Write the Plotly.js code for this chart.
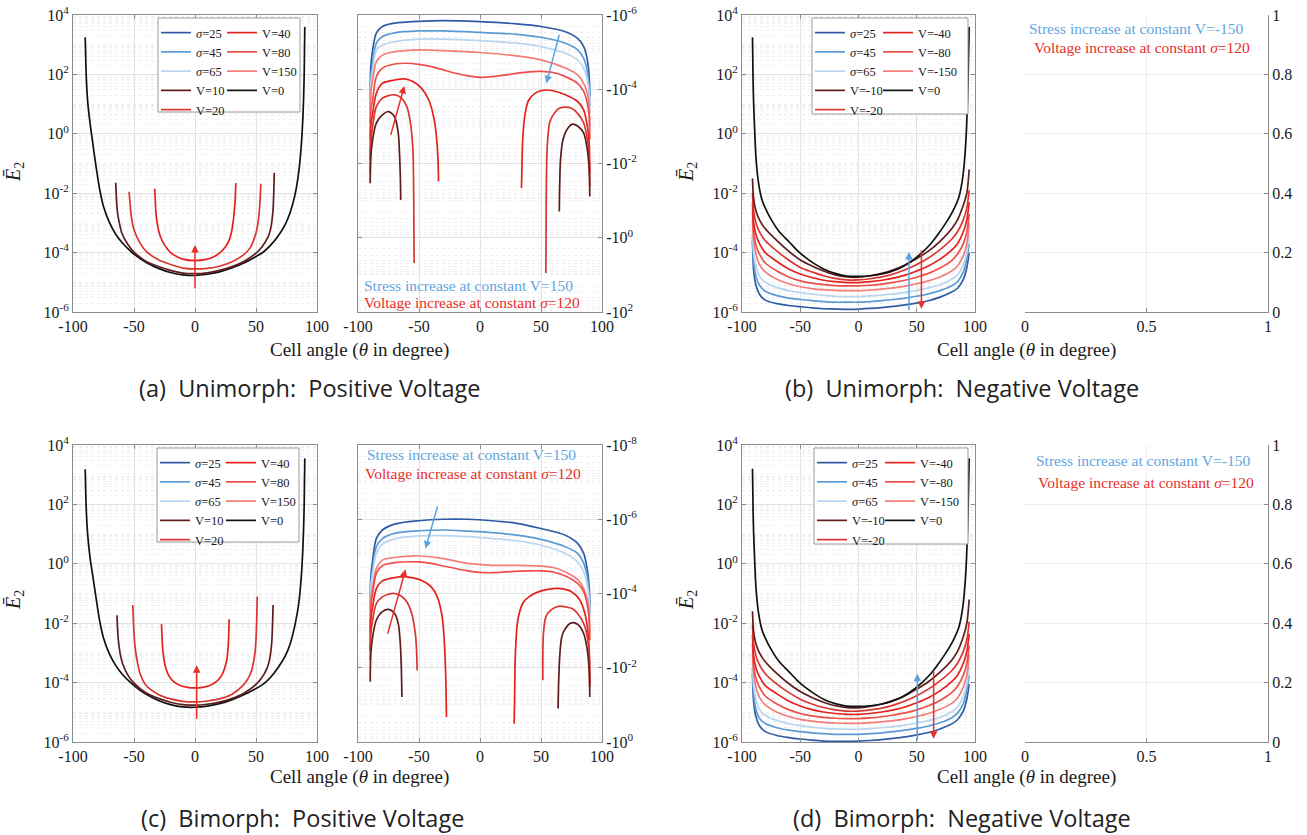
<!DOCTYPE html>
<html><head><meta charset="utf-8">
<script src="https://cdn.plot.ly/plotly-3.0.1.min.js"></script>
<style>html,body{margin:0;padding:0;background:#fff}#chart{width:1307px;height:835px}</style>
</head><body><div id="chart"></div>
<script>
// ===== DATA (values are log10 of |E2|) =====
// Panel (a) Unimorph, positive voltage - left axis (E2 > 0)
const a_x_V0 = [-90,-89.5,-89,-88,-86,-84,-82,-80,-78,-75,-70,-65,-60,-52,-45,-40,-30,-20,-10,0,10,20,30,40,50,56,62,68,74,78,82,85,87,88.5,89.5,90];
const a_V0 = [3.25,2.4,1.8,1.1,0.35,-0.25,-0.85,-1.4,-1.9,-2.45,-3.0,-3.38,-3.65,-3.98,-4.2,-4.33,-4.53,-4.67,-4.75,-4.77,-4.73,-4.65,-4.52,-4.35,-4.13,-3.98,-3.75,-3.45,-3.05,-2.65,-2.05,-1.3,-0.45,0.6,2.0,3.6];
const a_x_V10 = [-65,-64.5,-64,-63,-62,-60,-55,-50,-40,-30,-20,-10,0,10,20,30,40,50,55,60,62,63,64,64.5,65];
const a_V10 = [-1.65,-2.1,-2.45,-2.8,-3.0,-3.34,-3.73,-3.98,-4.3,-4.47,-4.6,-4.69,-4.71,-4.68,-4.6,-4.48,-4.3,-4.02,-3.8,-3.46,-3.2,-2.95,-2.55,-2.05,-1.31];
const a_x_V20 = [-54,-53.5,-53,-52,-50,-45,-40,-30,-20,-10,0,10,20,30,40,45,50,52,53,53.5,54];
const a_V20 = [-1.95,-2.2,-2.45,-2.85,-3.23,-3.68,-3.96,-4.24,-4.4,-4.52,-4.55,-4.53,-4.46,-4.32,-4.07,-3.85,-3.34,-2.9,-2.45,-2.1,-1.68];
const a_x_V40 = [-33,-32.5,-32,-31,-30,-28,-25,-20,-15,-10,0,10,15,20,25,28,30,31,32,32.8,33.5];
const a_V40 = [-1.85,-2.3,-2.67,-3.0,-3.23,-3.5,-3.74,-4.0,-4.13,-4.22,-4.27,-4.22,-4.15,-4.02,-3.8,-3.58,-3.3,-3.05,-2.7,-2.3,-1.66];
// Panel (a) - right axis (E2 < 0, log10 of magnitude)
const a_x_blue = [-90,-89.5,-88,-85,-80,-70,-50,-30,0,30,50,70,80,85,88,89.5,90];
const a_S25 = [-3.71,-4.61,-5.06,-5.51,-5.69,-5.78,-5.83,-5.85,-5.82,-5.76,-5.69,-5.55,-5.37,-5.15,-4.79,-4.34,-3.80];
const a_S45 = [-3.44,-4.34,-4.70,-5.24,-5.42,-5.52,-5.57,-5.57,-5.53,-5.48,-5.40,-5.24,-5.06,-4.83,-4.48,-4.07,-3.53];
const a_S65 = [-3.35,-4.16,-4.52,-5.06,-5.19,-5.28,-5.35,-5.35,-5.31,-5.24,-5.15,-4.97,-4.79,-4.57,-4.25,-3.89,-3.35];
const a_V150 = [-3.09,-3.89,-4.25,-4.74,-4.92,-5.01,-5.06,-5.04,-4.99,-4.90,-4.79,-4.57,-4.39,-4.16,-3.89,-3.53,-3.0];
const a_x_V80 = [-90,-89.5,-88,-85,-80,-70,-60,-50,-40,-30,-20,-10,0,10,20,30,40,50,60,70,80,85,88,89.5,90];
const a_V80 = [-2.64,-3.44,-3.71,-4.34,-4.57,-4.68,-4.70,-4.67,-4.61,-4.52,-4.43,-4.36,-4.32,-4.34,-4.38,-4.43,-4.47,-4.48,-4.45,-4.34,-4.16,-3.94,-3.62,-3.26,-2.64];
const a_x_V40L = [-90,-89.5,-88,-85,-80,-70,-62,-55,-48,-42,-38,-36,-34.5,-34];
const a_V40L = [-2.10,-3.0,-3.35,-3.89,-4.16,-4.25,-4.28,-4.21,-4.03,-3.71,-3.26,-2.82,-2.19,-1.52];
const a_x_V40R = [34,34.5,35,37,40,45,50,55,60,70,80,85,88,89.5,90];
const a_V40R = [-1.34,-2.10,-2.64,-3.35,-3.71,-3.89,-3.96,-3.98,-3.96,-3.85,-3.67,-3.44,-3.0,-2.55,-1.74];
const a_x_V20L = [-90,-89.5,-88,-85,-80,-75,-70,-65,-60,-57,-55,-54.3,-54];
const a_V20L = [-1.74,-2.55,-3.0,-3.53,-3.76,-3.83,-3.85,-3.78,-3.53,-3.09,-2.37,-1.02,0.68];
const a_x_V20R = [54,54.3,55,57,60,65,70,75,80,85,88,89.5,90];
const a_V20R = [0.95,-1.02,-2.37,-3.09,-3.31,-3.49,-3.52,-3.49,-3.35,-3.09,-2.64,-2.19,-1.38];
const a_x_V10L = [-90,-89.5,-88,-85,-80,-75,-70,-67,-66,-65.3,-65];
const a_V10L = [-1.47,-2.19,-2.64,-3.09,-3.31,-3.40,-3.26,-2.82,-2.28,-1.65,-1.02];
const a_x_V10R = [65,65.3,66,68,72,76,80,85,88,89.5,90];
const a_V10R = [-0.71,-1.38,-2.10,-2.64,-2.95,-3.06,-3.01,-2.82,-2.37,-1.83,-1.11];

// Panel (b) Unimorph, negative voltage
const b_x_V0 = [-91,-90.5,-90,-89,-88,-86,-83,-80,-74,-68,-60,-52,-45,-40,-30,-20,-10,0,10,20,34,45,54,62,68,75,81,86,89,91,92.5,94,95];
const b_V0 = [3.25,1.8,1.0,0.0,-0.8,-1.6,-2.2,-2.5,-2.95,-3.3,-3.62,-3.95,-4.18,-4.32,-4.55,-4.7,-4.79,-4.8,-4.78,-4.72,-4.55,-4.3,-4.02,-3.7,-3.4,-3.0,-2.6,-2.15,-1.6,-0.9,0.0,1.7,3.6];
const bd_x = [-91,-90,-88,-85,-80,-70,-60,-50,-40,-30,-20,-10,0,10,20,30,40,50,60,70,80,85,90,93,95];
const b_Vm10 = [-1.5,-2.2,-2.6,-2.9,-3.2,-3.6,-3.95,-4.25,-4.45,-4.62,-4.75,-4.82,-4.83,-4.78,-4.7,-4.58,-4.42,-4.2,-3.95,-3.62,-3.2,-2.9,-2.4,-2.0,-1.2];
const b_Vm20 = [-2.0,-2.6,-3.0,-3.3,-3.6,-3.95,-4.25,-4.5,-4.65,-4.78,-4.87,-4.92,-4.92,-4.88,-4.82,-4.72,-4.58,-4.4,-4.18,-3.9,-3.55,-3.3,-2.9,-2.5,-1.9];
const b_Vm40 = [-2.3,-3.0,-3.4,-3.7,-4.0,-4.3,-4.55,-4.72,-4.84,-4.93,-4.98,-5.01,-5.01,-4.98,-4.93,-4.86,-4.76,-4.62,-4.45,-4.22,-3.92,-3.7,-3.3,-2.9,-2.3];
const b_Vm80 = [-2.6,-3.3,-3.75,-4.05,-4.35,-4.62,-4.82,-4.95,-5.03,-5.08,-5.11,-5.12,-5.12,-5.1,-5.06,-5.0,-4.93,-4.83,-4.7,-4.52,-4.27,-4.05,-3.7,-3.3,-2.7];
const b_Vm150 = [-2.9,-3.6,-4.05,-4.4,-4.65,-4.9,-5.05,-5.15,-5.21,-5.25,-5.27,-5.28,-5.28,-5.26,-5.23,-5.19,-5.13,-5.05,-4.95,-4.82,-4.62,-4.45,-4.1,-3.7,-3.0];
const b_S65 = [-3.2,-4.0,-4.45,-4.8,-5.0,-5.18,-5.28,-5.35,-5.4,-5.44,-5.47,-5.48,-5.48,-5.46,-5.43,-5.39,-5.34,-5.27,-5.19,-5.08,-4.9,-4.75,-4.4,-4.0,-3.4];
const b_S45 = [-3.4,-4.3,-4.8,-5.1,-5.3,-5.45,-5.53,-5.58,-5.62,-5.65,-5.67,-5.67,-5.67,-5.65,-5.62,-5.58,-5.53,-5.47,-5.39,-5.28,-5.12,-4.98,-4.65,-4.2,-3.7];
const b_S25 = [-3.6,-4.6,-5.1,-5.4,-5.6,-5.72,-5.78,-5.82,-5.86,-5.89,-5.9,-5.91,-5.9,-5.88,-5.85,-5.81,-5.76,-5.7,-5.62,-5.5,-5.33,-5.2,-4.9,-4.5,-4.0];

// Panel (c) Bimorph, positive voltage - left axis
const c_V0 = [3.18,2.3,1.7,1.0,0.2,-0.35,-0.9,-1.45,-1.95,-2.5,-3.05,-3.42,-3.7,-4.03,-4.26,-4.39,-4.6,-4.74,-4.82,-4.83,-4.79,-4.71,-4.58,-4.41,-4.2,-4.05,-3.82,-3.5,-3.1,-2.7,-2.05,-1.35,-0.5,0.6,2.0,3.55];
const c_x_V10 = [-64,-63.5,-63,-62,-61,-59,-55,-50,-40,-30,-20,-10,0,10,20,30,40,50,55,59,61,62,63,63.5,64];
const c_V10 = [-1.73,-2.15,-2.5,-2.85,-3.1,-3.4,-3.75,-4.02,-4.35,-4.53,-4.66,-4.74,-4.76,-4.73,-4.66,-4.54,-4.36,-4.06,-3.82,-3.52,-3.25,-3.0,-2.6,-2.1,-1.39];
const c_x_V20 = [-51,-50.5,-50,-49,-47,-45,-40,-30,-20,-10,0,10,20,30,40,45,47,49,50,50.5,51];
const c_V20 = [-1.39,-1.9,-2.35,-2.85,-3.35,-3.7,-4.1,-4.4,-4.55,-4.63,-4.65,-4.62,-4.55,-4.4,-4.07,-3.75,-3.5,-3.05,-2.55,-2.0,-1.11];
const c_x_V40 = [-27.5,-27,-26.5,-25.5,-24,-22,-18,-12,-6,0,6,12,18,22,24,26,27,27.5,28];
const c_V40 = [-2.03,-2.5,-2.85,-3.2,-3.5,-3.72,-3.95,-4.1,-4.16,-4.18,-4.16,-4.1,-3.95,-3.75,-3.55,-3.25,-2.9,-2.55,-1.87];
// Panel (c) - right axis (E2 < 0)
const c_x_blue = [-90,-89.5,-88,-85,-80,-70,-50,-30,-10,10,30,50,70,80,85,88,89.5,90];
const c_S25 = [-3.73,-4.45,-4.90,-5.48,-5.71,-5.87,-5.96,-6.0,-6.0,-5.96,-5.89,-5.75,-5.57,-5.35,-5.08,-4.63,-4.18,-3.64];
const c_S45 = [-3.55,-4.27,-4.67,-5.26,-5.48,-5.62,-5.69,-5.71,-5.68,-5.64,-5.57,-5.46,-5.26,-5.08,-4.81,-4.45,-4.0,-3.46];
const c_S65 = [-3.46,-4.18,-4.54,-5.08,-5.33,-5.47,-5.55,-5.56,-5.53,-5.48,-5.42,-5.30,-5.08,-4.85,-4.58,-4.22,-3.82,-3.37];
const c_x_V150 = [-90,-89.5,-88,-85,-80,-70,-50,-30,-10,10,30,50,60,70,80,85,88,89.5,90];
const c_V150 = [-3.10,-3.82,-4.18,-4.67,-4.90,-4.97,-5.01,-4.94,-4.81,-4.76,-4.76,-4.74,-4.70,-4.58,-4.38,-4.13,-3.82,-3.46,-2.92];
const c_x_V80 = [-90,-89.5,-88,-85,-80,-70,-50,-40,-30,-10,0,10,20,40,50,60,70,80,85,88,89.5,90];
const c_V80 = [-2.92,-3.64,-4.0,-4.54,-4.75,-4.83,-4.85,-4.81,-4.74,-4.61,-4.57,-4.56,-4.58,-4.61,-4.61,-4.58,-4.47,-4.27,-4.05,-3.69,-3.28,-2.74];
const c_x_V40L = [-90,-89.5,-88,-85,-80,-70,-60,-50,-40,-35,-31,-29,-28,-27.5];
const c_V40L = [-2.47,-3.28,-3.64,-4.13,-4.34,-4.43,-4.45,-4.38,-4.18,-3.91,-3.37,-2.56,-1.66,-0.67];
const c_x_V40R = [28,28.5,29,31,35,40,50,60,66,75,82,86,88,89.5,90];
const c_V40R = [-0.49,-1.48,-2.38,-3.28,-3.73,-3.91,-4.07,-4.13,-4.13,-4.05,-3.82,-3.46,-3.10,-2.47,-1.57];
const c_x_V20L = [-90,-89.5,-88,-85,-80,-75,-70,-65,-60,-56,-53,-52,-51.5];
const c_V20L = [-2.20,-2.92,-3.28,-3.73,-3.91,-3.98,-4.0,-3.94,-3.78,-3.46,-2.92,-2.47,-1.93];
const c_x_V20R = [51.5,52,54,58,65,70,75,80,85,88,89.5,90];
const c_V20R = [-1.66,-2.92,-3.37,-3.55,-3.66,-3.64,-3.60,-3.46,-3.19,-2.83,-2.38,-1.48];
const c_x_V10L = [-90,-89.5,-88,-85,-80,-75,-70,-67,-65.5,-64.5,-64];
const c_V10L = [-1.62,-2.38,-2.83,-3.28,-3.51,-3.57,-3.46,-3.19,-2.74,-2.02,-1.21];
const c_x_V10R = [64,64.5,65.5,67,70,75,80,85,88,89.5,90];
const c_V10R = [-0.90,-1.66,-2.38,-2.83,-3.06,-3.21,-3.17,-2.92,-2.47,-1.93,-1.21];

// Panel (d) Bimorph, negative voltage
const d_V0 = [3.2,1.8,1.0,0.0,-0.8,-1.6,-2.2,-2.5,-2.95,-3.3,-3.62,-3.95,-4.18,-4.32,-4.56,-4.71,-4.79,-4.8,-4.78,-4.72,-4.55,-4.3,-4.02,-3.7,-3.4,-3.0,-2.6,-2.15,-1.6,-0.9,0.0,1.7,3.55];
const d_Vm10 = [-1.6,-2.3,-2.7,-3.0,-3.3,-3.7,-4.03,-4.3,-4.5,-4.66,-4.78,-4.84,-4.85,-4.8,-4.72,-4.6,-4.44,-4.22,-3.97,-3.65,-3.25,-2.95,-2.45,-2.0,-1.2];
const d_Vm20 = [-2.05,-2.7,-3.1,-3.4,-3.7,-4.05,-4.33,-4.56,-4.72,-4.84,-4.92,-4.96,-4.96,-4.92,-4.86,-4.76,-4.62,-4.44,-4.22,-3.94,-3.6,-3.35,-2.95,-2.55,-1.95];
const d_Vm40 = [-2.4,-3.1,-3.5,-3.8,-4.1,-4.38,-4.62,-4.79,-4.91,-4.99,-5.04,-5.07,-5.07,-5.04,-4.99,-4.92,-4.82,-4.68,-4.51,-4.28,-3.97,-3.75,-3.35,-2.95,-2.35];
const d_Vm80 = [-2.7,-3.4,-3.85,-4.15,-4.45,-4.72,-4.91,-5.04,-5.12,-5.17,-5.2,-5.21,-5.21,-5.19,-5.15,-5.09,-5.02,-4.92,-4.78,-4.6,-4.34,-4.12,-3.75,-3.35,-2.75];
const d_Vm150 = [-3.0,-3.7,-4.15,-4.5,-4.75,-5.0,-5.14,-5.24,-5.3,-5.34,-5.36,-5.37,-5.37,-5.35,-5.32,-5.28,-5.22,-5.14,-5.04,-4.9,-4.7,-4.52,-4.15,-3.75,-3.05];
const d_S65 = [-3.3,-4.1,-4.55,-4.9,-5.1,-5.28,-5.38,-5.45,-5.5,-5.54,-5.56,-5.57,-5.57,-5.55,-5.52,-5.48,-5.43,-5.36,-5.28,-5.17,-4.98,-4.82,-4.45,-4.05,-3.45];
const d_S45 = [-3.5,-4.4,-4.9,-5.2,-5.38,-5.52,-5.6,-5.65,-5.69,-5.72,-5.74,-5.74,-5.74,-5.72,-5.69,-5.65,-5.6,-5.54,-5.46,-5.35,-5.18,-5.03,-4.7,-4.25,-3.75];
const d_S25 = [-3.7,-4.65,-5.15,-5.45,-5.65,-5.78,-5.85,-5.9,-5.94,-5.97,-5.98,-5.98,-5.97,-5.95,-5.92,-5.88,-5.83,-5.76,-5.68,-5.56,-5.39,-5.25,-4.95,-4.55,-4.05];

// ===== STYLE =====
const W = 1307, H = 835;
const px = p => p / W, py = p => 1 - p / H;
const SERIF = 'Liberation Serif';
const SANS = 'Open Sans';
const BOX = '#8c8c8c', GRID = '#e3e3e3', MINOR = '#efefef', TXT = '#1a1a1a';
const C = {S25:'#2f5ba6', S45:'#5b9bd5', S65:'#b9d6f0', V10:'#5e1c1c', V20:'#d8362f', V40:'#e4211c', V80:'#ec4f49', V150:'#f27d79', V0:'#111111'};
const ARROW_B = '#5ba3e0', ARROW_R = '#e8302a', TXT_B = '#62a6de', TXT_R = '#e8302a';

function evenDecades(lo, hi){ const a=[]; for(let e=lo;e<=hi;e++) if(e%2===0) a.push(Math.pow(10,e)); return a; }
function minors(lo, hi){ const a=[]; for(let e=lo;e<hi;e++){ if(e%2!==0) a.push(Math.pow(10,e)); for(let m=2;m<=9;m++) a.push(m*Math.pow(10,e)); } return a; }
function logLabels(lo, hi, neg){ const a=[]; for(let e=lo;e<=hi;e++) if(e%2===0) a.push((neg?'-':'')+'10<sup>'+e+'</sup>'); return a; }

function line(x, lg, color, sp, name, legend, rank){
  const n = sp===1 ? '' : String(sp);
  return {type:'scatter', mode:'lines', x:x, y:lg.map(v=>Math.pow(10,v)), xaxis:'x'+n, yaxis:'y'+n,
    line:{color:color, width:1.7, shape:'spline', smoothing:0.8}, name:name||'', legend:legend||'legend',
    legendrank:rank||1000, showlegend:!!name, hoverinfo:'skip'};
}
const S = s => '<i>σ</i>='+s;
const traces = [];
// (a)
traces.push(line(a_x_V0, a_V0, C.V0, 1, 'V=0', 'legend2', 4));
traces.push(line(a_x_V10, a_V10, C.V10, 1, 'V=10', 'legend', 4));
traces.push(line(a_x_V20, a_V20, C.V20, 1, 'V=20', 'legend', 5));
traces.push(line(a_x_V40, a_V40, C.V40, 1, 'V=40', 'legend2', 1));
traces.push(line(a_x_blue, a_S25, C.S25, 2, S(25), 'legend', 1));
traces.push(line(a_x_blue, a_S45, C.S45, 2, S(45), 'legend', 2));
traces.push(line(a_x_blue, a_S65, C.S65, 2, S(65), 'legend', 3));
traces.push(line(a_x_blue, a_V150, C.V150, 2, 'V=150', 'legend2', 3));
traces.push(line(a_x_V80, a_V80, C.V80, 2, 'V=80', 'legend2', 2));
traces.push(line(a_x_V40L, a_V40L, C.V40, 2));
traces.push(line(a_x_V40R, a_V40R, C.V40, 2));
traces.push(line(a_x_V20L, a_V20L, C.V20, 2));
traces.push(line(a_x_V20R, a_V20R, C.V20, 2));
traces.push(line(a_x_V10L, a_V10L, C.V10, 2));
traces.push(line(a_x_V10R, a_V10R, C.V10, 2));
// (b)
traces.push(line(bd_x, b_S25, C.S25, 3, S(25), 'legend3', 1));
traces.push(line(bd_x, b_S45, C.S45, 3, S(45), 'legend3', 2));
traces.push(line(bd_x, b_S65, C.S65, 3, S(65), 'legend3', 3));
traces.push(line(bd_x, b_Vm150, C.V150, 3, 'V=-150', 'legend4', 3));
traces.push(line(bd_x, b_Vm80, C.V80, 3, 'V=-80', 'legend4', 2));
traces.push(line(bd_x, b_Vm40, C.V40, 3, 'V=-40', 'legend4', 1));
traces.push(line(bd_x, b_Vm20, C.V20, 3, 'V=-20', 'legend3', 5));
traces.push(line(bd_x, b_Vm10, C.V10, 3, 'V=-10', 'legend3', 4));
traces.push(line(b_x_V0, b_V0, C.V0, 3, 'V=0', 'legend4', 4));
traces.push({type:'scatter', mode:'lines', x:[], y:[], xaxis:'x4', yaxis:'y4', showlegend:false, hoverinfo:'skip'});
// (c)
traces.push(line(a_x_V0, c_V0, C.V0, 5, 'V=0', 'legend6', 4));
traces.push(line(c_x_V10, c_V10, C.V10, 5, 'V=10', 'legend5', 4));
traces.push(line(c_x_V20, c_V20, C.V20, 5, 'V=20', 'legend5', 5));
traces.push(line(c_x_V40, c_V40, C.V40, 5, 'V=40', 'legend6', 1));
traces.push(line(c_x_blue, c_S25, C.S25, 6, S(25), 'legend5', 1));
traces.push(line(c_x_blue, c_S45, C.S45, 6, S(45), 'legend5', 2));
traces.push(line(c_x_blue, c_S65, C.S65, 6, S(65), 'legend5', 3));
traces.push(line(c_x_V150, c_V150, C.V150, 6, 'V=150', 'legend6', 3));
traces.push(line(c_x_V80, c_V80, C.V80, 6, 'V=80', 'legend6', 2));
traces.push(line(c_x_V40L, c_V40L, C.V40, 6));
traces.push(line(c_x_V40R, c_V40R, C.V40, 6));
traces.push(line(c_x_V20L, c_V20L, C.V20, 6));
traces.push(line(c_x_V20R, c_V20R, C.V20, 6));
traces.push(line(c_x_V10L, c_V10L, C.V10, 6));
traces.push(line(c_x_V10R, c_V10R, C.V10, 6));
// (d)
traces.push(line(bd_x, d_S25, C.S25, 7, S(25), 'legend7', 1));
traces.push(line(bd_x, d_S45, C.S45, 7, S(45), 'legend7', 2));
traces.push(line(bd_x, d_S65, C.S65, 7, S(65), 'legend7', 3));
traces.push(line(bd_x, d_Vm150, C.V150, 7, 'V=-150', 'legend8', 3));
traces.push(line(bd_x, d_Vm80, C.V80, 7, 'V=-80', 'legend8', 2));
traces.push(line(bd_x, d_Vm40, C.V40, 7, 'V=-40', 'legend8', 1));
traces.push(line(bd_x, d_Vm20, C.V20, 7, 'V=-20', 'legend7', 5));
traces.push(line(bd_x, d_Vm10, C.V10, 7, 'V=-10', 'legend7', 4));
traces.push(line(b_x_V0, d_V0, C.V0, 7, 'V=0', 'legend8', 4));
traces.push({type:'scatter', mode:'lines', x:[], y:[], xaxis:'x8', yaxis:'y8', showlegend:false, hoverinfo:'skip'});

// ===== AXES =====
function ax(extra){
  return Object.assign({showline:true, linecolor:BOX, linewidth:1, mirror:'ticks', ticks:'inside', ticklen:4, tickcolor:BOX,
    showgrid:true, gridcolor:GRID, gridwidth:1, zeroline:false, fixedrange:true, automargin:false,
    tickfont:{family:SERIF, size:16, color:TXT}}, extra);
}
const XL = [73,317], XR = [358,602], XL2 = [742,975], XR2 = [1025,1268];
const YT = [15,312], YB = [445,742];
const dom = (r) => [px(r[0]), px(r[1])];
const domY = (r) => [py(r[1]), py(r[0])];
const angleTicks = {range:[-100,100], tickvals:[-100,-50,0,50,100], ticktext:['-100','-50','0','50','100']};
const minorLog = (lo,hi) => ({tickvals:minors(lo,hi), showgrid:true, gridcolor:MINOR, griddash:'dot', ticks:''});
function leftLogY(anchor, yd){ return ax({domain:domY(yd), anchor:anchor, type:'log', range:[-6,4], tickvals:evenDecades(-6,4), ticktext:logLabels(-6,4,false), minor:minorLog(-6,4)}); }
function rightLogY(anchor, yd, lo, hi){ return ax({domain:domY(yd), anchor:anchor, side:'right', type:'log', range:[hi,lo], tickvals:evenDecades(lo,hi), ticktext:logLabels(lo,hi,true), minor:minorLog(lo,hi)}); }
function emptyX(anchor, xd){ return ax({domain:dom(xd), anchor:anchor, range:[0,1], tickvals:[0,0.5,1], ticktext:['0','0.5','1'], mirror:false, gridcolor:'#ececec'}); }
function emptyY(anchor, yd){ return ax({domain:domY(yd), anchor:anchor, side:'right', range:[0,1], tickvals:[0,0.2,0.4,0.6,0.8,1], ticktext:['0','0.2','0.4','0.6','0.8','1'], mirror:false, gridcolor:'#ececec'}); }

const layout = {
  width:W, height:H, margin:{l:0,r:0,t:0,b:0}, paper_bgcolor:'#fff', plot_bgcolor:'#fff', showlegend:true,
  xaxis: ax(Object.assign({domain:dom(XL), anchor:'y'}, angleTicks)),   yaxis: leftLogY('x', YT),
  xaxis2: ax(Object.assign({domain:dom(XR), anchor:'y2'}, angleTicks)), yaxis2: rightLogY('x2', YT, -6, 2),
  xaxis3: ax(Object.assign({domain:dom(XL2), anchor:'y3'}, angleTicks)), yaxis3: leftLogY('x3', YT),
  xaxis4: emptyX('y4', XR2), yaxis4: emptyY('x4', YT),
  xaxis5: ax(Object.assign({domain:dom(XL), anchor:'y5'}, angleTicks)), yaxis5: leftLogY('x5', YB),
  xaxis6: ax(Object.assign({domain:dom(XR), anchor:'y6'}, angleTicks)), yaxis6: rightLogY('x6', YB, -8, 0),
  xaxis7: ax(Object.assign({domain:dom(XL2), anchor:'y7'}, angleTicks)), yaxis7: leftLogY('x7', YB),
  xaxis8: emptyX('y8', XR2), yaxis8: emptyY('x8', YB),
};
function leg(xp, yp){ return {x:px(xp), y:py(yp), xanchor:'left', yanchor:'top', bgcolor:'rgba(0,0,0,0)', borderwidth:0,
  font:{family:SERIF, size:12.5, color:TXT}, tracegroupgap:0, itemclick:false, itemdoubleclick:false}; }
layout.legend = leg(156, 18);  layout.legend2 = leg(222, 18);
layout.legend3 = leg(810, 18); layout.legend4 = leg(878, 18);
layout.legend5 = leg(155, 448); layout.legend6 = leg(221, 448);
layout.legend7 = leg(812, 448); layout.legend8 = leg(880, 448);

function box(x0,x1,y0,y1){ return {type:'rect', xref:'paper', yref:'paper', x0:px(x0), x1:px(x1), y0:py(y1), y1:py(y0), fillcolor:'#ffffff', line:{color:'#9a9a9a', width:1}, layer:'above'}; }
layout.shapes = [box(158,300,18,112), box(812,968,18,114), box(157,299,448,542), box(814,968,448,544)];

function arrow(sp,x0,y0,x1,y1,color){ const n = sp===1?'':String(sp);
  return {xref:'x'+n, yref:'y'+n, axref:'x'+n, ayref:'y'+n, x:x1, y:y1, ax:x0, ay:y0, text:'', showarrow:true,
    arrowhead:2, arrowsize:1, arrowwidth:1.5, arrowcolor:color}; }
function ptxt(xp, yp, text, opts){ return Object.assign({xref:'paper', yref:'paper', x:px(xp), y:py(yp), text:text, showarrow:false,
  xanchor:'center', yanchor:'middle', font:{family:SERIF, size:19, color:TXT}}, opts||{}); }
const NB = '\u00a0';
const ann = [];
// arrows
ann.push(arrow(1, 0, -5.25, 0, -3.74, ARROW_R));
ann.push(arrow(2, 65.3, -5.51, 54.4, -4.16, ARROW_B));
ann.push(arrow(2, -73.5, -2.73, -62, -4.09, ARROW_R));
ann.push(arrow(3, 43.3, -5.99, 43.3, -3.98, ARROW_B));
ann.push(arrow(3, 54, -3.87, 54, -5.89, ARROW_R));
ann.push(arrow(5, 1.4, -5.27, 1.4, -3.42, ARROW_R));
ann.push(arrow(6, -34.5, -6.38, -44.7, -5.21, ARROW_B));
ann.push(arrow(6, -76, -2.88, -61, -4.65, ARROW_R));
ann.push(arrow(7, 50.5, -5.99, 50.5, -3.7, ARROW_B));
ann.push(arrow(7, 64.5, -3.53, 64.5, -5.89, ARROW_R));
// in-plot notes
const noteB = v => 'Stress increase at constant V='+v, noteR = 'Voltage increase at constant <i>σ</i>=120';
const nf = c => ({xanchor:'left', font:{family:SERIF, size:15.5, color:c}});
ann.push(ptxt(362, 285, noteB(150), nf(TXT_B)));
ann.push(ptxt(362, 302, noteR, nf(TXT_R)));
ann.push(ptxt(365, 455, noteB(150), nf(TXT_B)));
ann.push(ptxt(363, 473, noteR, nf(TXT_R)));
ann.push(ptxt(1027, 28, noteB(-150), nf(TXT_B)));
ann.push(ptxt(1032, 47, noteR, nf(TXT_R)));
ann.push(ptxt(1034, 460, noteB(-150), nf(TXT_B)));
ann.push(ptxt(1036, 482, noteR, nf(TXT_R)));
// axis titles
const xt = 'Cell angle (<i>θ</i> in degree)';
ann.push(ptxt(359, 350, xt)); ann.push(ptxt(1026, 350, xt));
ann.push(ptxt(359, 777, xt)); ann.push(ptxt(1026, 777, xt));
const yt = '<i>E\u0304</i><sub>2</sub>';
[[14,172],[687,172],[14,600],[687,600]].forEach(p => ann.push(ptxt(p[0], p[1], yt, {textangle:-90, font:{family:SERIF, size:20, color:TXT}})));
// captions
const cap = {font:{family:SANS, size:23.5, color:'#222'}};
ann.push(ptxt(310, 388, '(a)'+NB+NB+'Unimorph:'+NB+NB+'Positive Voltage', cap));
ann.push(ptxt(962, 388, '(b)'+NB+NB+'Unimorph:'+NB+NB+'Negative Voltage', cap));
ann.push(ptxt(302, 818, '(c)'+NB+NB+'Bimorph:'+NB+NB+'Positive Voltage', cap));
ann.push(ptxt(962, 818, '(d)'+NB+NB+'Bimorph:'+NB+NB+'Negative Voltage', cap));
layout.annotations = ann;

Plotly.newPlot('chart', traces, layout, {displayModeBar:false, staticPlot:true});
</script></body></html>
